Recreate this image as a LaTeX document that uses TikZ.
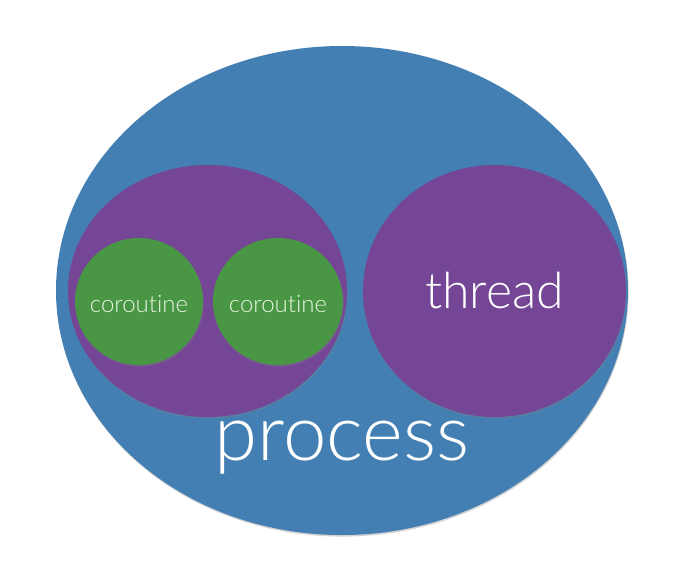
\documentclass[tikz,border=0pt]{standalone}
\usepackage{fontspec}
\setmainfont{Lato}[UprightFont={* Light}, Ligatures={NoCommon}]
\usetikzlibrary{shapes.geometric,shadows}
\definecolor{procblue}{RGB}{67,127,178}
\definecolor{threadpurple}{RGB}{117,70,150}
\definecolor{corogreen}{RGB}{73,150,68}
\definecolor{corotext}{RGB}{232,245,224}
\begin{document}
\begin{tikzpicture}[x=1pt, y=-1pt,
        disc/.style={ellipse, inner sep=0pt, draw=none,
            drop shadow={shadow xshift=0.6pt, shadow yshift=-1.6pt, opacity=0.35}},
        procdisc/.style={disc, fill=procblue},
        threaddisc/.style={disc, fill=threadpurple},
        corodisc/.style={disc, fill=corogreen},
        corolabel/.style={text=corotext, font=\fontsize{24}{26}\selectfont},
        threadlabel/.style={text=white, font=\fontsize{50}{54}\selectfont},
        proclabel/.style={text=white, font=\fontsize{78}{82}\selectfont}]
        \useasboundingbox (0,0) rectangle (674,588);

        \node[procdisc, minimum width=572, minimum height=489] (process) at (342,290.5) {};

        \node[threaddisc, minimum width=279, minimum height=252] (threadA) at (207.5,291) {};
        \node[threaddisc, minimum width=263, minimum height=252,
            label={[threadlabel]center:thread}] (threadB) at (494.5,291) {};

        \node[corodisc, minimum width=128, minimum height=127,
            label={[corolabel, yshift=-3pt]center:coroutine}] (coroA) at (139,301.5) {};
        \node[corodisc, minimum width=130, minimum height=127,
            label={[corolabel, yshift=-3pt]center:coroutine}] (coroB) at (278,301.5) {};

        \node[proclabel, anchor=base] (proctext) at (342,460) {process};
    \end{tikzpicture}
\end{document}
